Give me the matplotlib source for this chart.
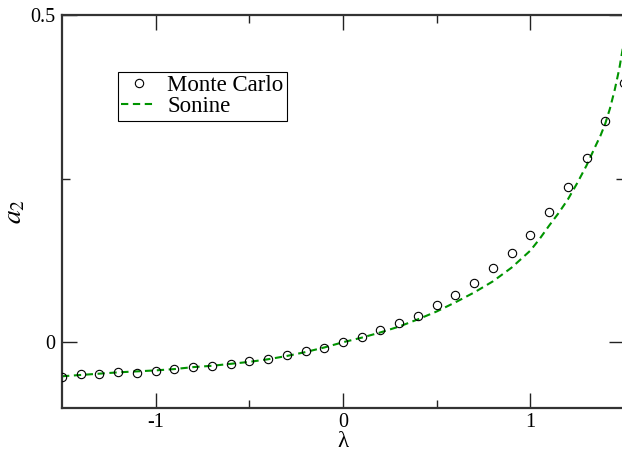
import numpy as np
import matplotlib
matplotlib.use("Agg")
import matplotlib.pyplot as plt

plt.rcParams['font.family'] = ['Liberation Serif', 'DejaVu Serif']
plt.rcParams['mathtext.fontset'] = 'stix'

# Monte Carlo points
lam_mc = [-1.5, -1.4, -1.3, -1.2, -1.1, -1.0, -0.9, -0.8, -0.7, -0.6, -0.5,
          -0.4, -0.3, -0.2, -0.1, 0.0, 0.1, 0.2, 0.3, 0.4, 0.5,
          0.6, 0.7, 0.8, 0.9, 1.0, 1.1, 1.2, 1.3, 1.4, 1.5]
a2_mc = [-0.0525, -0.049, -0.048, -0.046, -0.0464, -0.0443, -0.0408, -0.0377, -0.0362, -0.0326, -0.029,
         -0.025, -0.0194, -0.0133, -0.0082, 0.0005, 0.0081, 0.0183, 0.029, 0.040, 0.0565,
         0.0723, 0.090, 0.113, 0.136, 0.164, 0.1986, 0.2368, 0.282, 0.3385, 0.3966]

# Sonine curve
lam_son = [-1.5, -1.4, -1.3, -1.2, -1.1, -1.0, -0.9, -0.8, -0.7, -0.6, -0.5,
           -0.4, -0.3, -0.2, -0.1, 0.0, 0.1, 0.2, 0.3, 0.4, 0.5,
           0.6, 0.7, 0.8, 0.9, 1.0, 1.05, 1.1, 1.15, 1.2, 1.25, 1.3, 1.35,
           1.375, 1.4, 1.425, 1.45, 1.475, 1.5]
a2_son = [-0.052, -0.050, -0.048, -0.046, -0.0445, -0.043, -0.041, -0.038, -0.036, -0.033, -0.030,
          -0.026, -0.021, -0.015, -0.008, 0.0, 0.007, 0.015, 0.024, 0.035, 0.047,
          0.061, 0.076, 0.093, 0.114, 0.140, 0.158, 0.178, 0.197, 0.218, 0.243, 0.27, 0.301,
          0.316, 0.334, 0.357, 0.385, 0.418, 0.46]

fig = plt.figure(figsize=(6.22, 4.54), dpi=100)
ax = fig.add_axes([0.0997, 0.102, 0.9035, 0.865])

ax.plot(lam_mc, a2_mc, 'o', mfc='none', mec='black', ms=6, mew=0.8,
        label='Monte Carlo', zorder=3)
ax.plot(lam_son, a2_son, color='#009400', lw=1.5, dashes=(3.5, 2.2),
        label='Sonine', zorder=2)

ax.set_xlim(-1.5, 1.5)
ax.set_ylim(-0.1, 0.5)
ax.set_xticks([-1, 0, 1])
ax.set_xticklabels(['-1', '0', '1'])
ax.set_xticks([-0.5, 0.5], minor=True)
ax.set_yticks([0, 0.5])
ax.set_yticklabels(['0', '0.5'])
ax.set_yticks([0.25], minor=True)

ax.tick_params(which='both', direction='in', top=True, right=True,
               labelsize=14.5, width=1.0, color='#222222')
ax.tick_params(which='major', length=11, pad=5)
ax.tick_params(axis='x', which='major', pad=4)
ax.tick_params(which='minor', length=6)
for s in ax.spines.values():
    s.set_linewidth(1.6)
    s.set_color('#333333')

ax.set_xlabel('λ', fontsize=16.5, labelpad=-1)
ax.set_ylabel('$a_2$', fontsize=20, labelpad=2)

leg = ax.legend(loc='upper left', bbox_to_anchor=(0.0995, 0.855), fontsize=16.5,
                frameon=True, fancybox=False, edgecolor='black', framealpha=1,
                handlelength=1.5, handletextpad=0.5, borderpad=0.15,
                labelspacing=0.0, borderaxespad=0)
leg.get_frame().set_linewidth(0.8)

fig.savefig('out.png', dpi=100)
